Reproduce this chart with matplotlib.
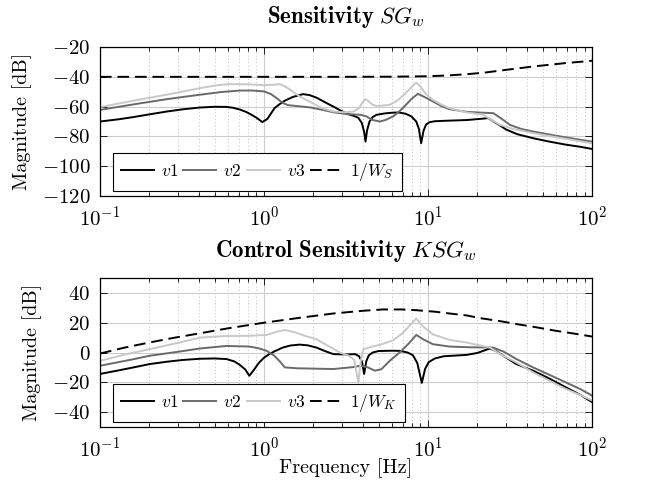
import numpy as np
import matplotlib
matplotlib.use('Agg')
import matplotlib.pyplot as plt
from matplotlib.ticker import LogLocator, NullFormatter

plt.rcParams['font.family'] = 'serif'
plt.rcParams['font.serif'] = ['cmr10', 'DejaVu Serif']
plt.rcParams['mathtext.fontset'] = 'cm'
plt.rcParams['axes.formatter.use_mathtext'] = True

# --- Sensitivity S G_w ---
s_v1_f = [0.1, 0.13, 0.16, 0.2, 0.255, 0.32, 0.407, 0.5, 0.591, 0.65, 0.714, 0.78, 0.84, 0.91, 0.977,
          1.05, 1.16, 1.24, 1.34, 1.5, 1.73, 1.9, 2.09, 2.35, 2.65, 2.95, 3.25, 3.55, 3.76, 3.95, 4.08,
          4.16, 4.25, 4.4, 4.6, 4.85, 5.5, 6.2, 6.71, 7.3, 7.9, 8.48, 8.8, 9.08, 9.4, 9.74, 10.2, 11,
          13.5, 17.2, 20.5, 23.3, 26, 30.1, 35, 43.7, 55, 69, 85, 100]
s_v1_m = [-70, -68.5, -67, -65.2, -63.3, -61.8, -60.6, -60.1, -60.2, -60.8, -62, -63.6, -65.5, -67.8, -70.4,
          -68.2, -61, -58.5, -56, -53.5, -51.6, -52.3, -54, -57, -60, -62.8, -65, -66.3, -67.5, -71, -77,
          -83.5, -76, -70, -67, -65.5, -64.5, -64, -64, -64.8, -66.5, -70, -75, -84.6, -76, -72, -70.5, -69.8,
          -69.4, -69, -68.3, -67.7, -71, -75.5, -78.5, -81.2, -83.5, -85.5, -87, -88.4]

s_v2_f = [0.1, 0.16, 0.255, 0.407, 0.55, 0.714, 0.85, 1.0, 1.1, 1.2, 1.3, 1.4, 1.65, 1.93, 2.3, 2.65,
          3.2, 3.88, 4.2, 4.6, 5.08, 5.5, 6.12, 6.8, 7.37, 8.0, 8.67, 9.5, 10.7, 12, 13.5, 17.2, 21, 25,
          28, 31.5, 37, 43.7, 60, 80, 100]
s_v2_m = [-62.2, -58.5, -55, -52, -50.2, -49.2, -49.2, -49.8, -51.5, -54.5, -57.5, -59, -59.8, -60.6, -62.3, -63.8,
          -65, -65.5, -66.5, -69, -70, -69, -66.6, -62.5, -58.5, -54.5, -51.4, -53.5, -56.5, -59.5, -61.7, -63.5, -64, -64.4,
          -68, -72.2, -75, -76.7, -79.5, -81.8, -83.5]

s_v3_f = [0.1, 0.16, 0.255, 0.407, 0.52, 0.619, 0.8, 1.0, 1.15, 1.25, 1.35, 1.5, 1.65, 2.0, 2.3, 2.65,
          3.1, 3.51, 3.8, 4.0, 4.16, 4.35, 4.6, 4.85, 5.3, 5.84, 6.5, 7.3, 8.0, 8.48, 9.0, 9.7, 10.7, 12,
          13.5, 17, 21.7, 24, 27.4, 33, 43.7, 60, 80, 100]
s_v3_m = [-60.4, -56, -52, -47.6, -45.6, -44.9, -45, -45.6, -45.3, -44.9, -46.5, -50, -53.2, -58, -61.3, -63.3,
          -63.8, -63.3, -61, -57, -55, -56.5, -58.8, -59.5, -59.3, -58.8, -56, -51, -46.5, -43.8, -46.5, -51.5, -55.4, -58.5,
          -61, -63.8, -65.5, -68.5, -72.2, -75, -77.8, -80.5, -82.8, -84.6]

ws_f = [0.1, 3, 6, 10, 13, 17, 22, 30, 38, 45, 55, 70, 85, 100]
ws_m = [-40, -40, -39.9, -39.6, -39.1, -38.3, -37.2, -35.3, -33.9, -32.9, -31.9, -30.7, -29.9, -29.2]

# --- Control sensitivity K S G_w ---
k_v1_f = [0.1, 0.13, 0.16, 0.2, 0.255, 0.32, 0.407, 0.5, 0.591, 0.66, 0.714, 0.77, 0.814, 0.87, 0.93,
          1.0, 1.08, 1.16, 1.3, 1.45, 1.65, 1.85, 2.09, 2.35, 2.65, 3.2, 3.6, 3.8, 3.95, 4.08, 4.2, 4.35,
          4.6, 5.0, 6.0, 6.71, 7.5, 8.09, 8.6, 9.17, 9.6, 10.1, 11, 12.5, 15, 17.2, 20, 23.8, 26, 30,
          34.6, 43.7, 55, 69, 85, 100]
k_v1_m = [-14.4, -12, -10, -7.8, -6.2, -5, -4.2, -4, -4.4, -6, -8.4, -11.5, -15.6, -11.5, -7,
          -3.5, -1, 0.8, 3.3, 4.7, 5.3, 4.8, 3.3, 1, -1.1, -1.3, -1.1, -2.5, -6, -14.4, -6, -2,
          0, 1, 1.2, 1.1, 0, -1.8, -7, -20.4, -11, -6.5, -4, -2.5, -2, -1.6, -0.3, 2.7, 1, -3.5,
          -7.8, -12.2, -17.5, -23.3, -28.5, -33.3]

k_v2_f = [0.1, 0.16, 0.2, 0.3, 0.407, 0.591, 0.814, 0.93, 1.04, 1.15, 1.25, 1.34, 1.6, 2.65, 3.5,
          3.88, 4.3, 4.74, 5.2, 5.84, 6.8, 7.7, 8.48, 9.3, 10.7, 13.5, 18, 25, 29, 34.6, 43.7, 55, 69, 85, 100]
k_v2_m = [-8.9, -4.5, -2.2, 0.5, 2.7, 4.4, 4, 2.8, 1.1, -2, -6, -10, -10.6, -11.1, -9.8,
          -8.9, -10, -12.2, -11.2, -5.6, 0.5, 6.5, 11.8, 9, 5.6, 4, 3.5, 3.3, 0.5, -4.4, -10, -15, -20, -24.6, -28.9]

k_v3_f = [0.1, 0.14, 0.2, 0.3, 0.407, 0.591, 0.8, 1.04, 1.2, 1.34, 1.55, 1.8, 2.09, 2.5, 2.9, 3.3,
          3.55, 3.76, 3.9, 4.03, 4.6, 5.2, 6.12, 7.0, 7.8, 8.48, 9.2, 10.7, 13.5, 17.2, 23.8, 28, 34.6,
          43.7, 55, 69, 85, 100]
k_v3_m = [-5.6, -1.5, 2.2, 6.5, 10, 11.1, 11.2, 11.8, 14, 15.1, 13.5, 11, 8.9, 4, 0, -2.2,
          -5, -20.4, -5, 2.2, 4, 5.5, 8.2, 13, 18.5, 22.9, 18, 12.2, 8.5, 6.7, 3.3, -1.5, -6.7,
          -13.3, -19, -24.4, -28.6, -32.2]

wk_f = [0.1, 0.14, 0.2, 0.28, 0.407, 0.6, 1.0, 1.65, 2.65, 4, 5.3, 7, 8.48, 11, 14, 17.2, 21, 27.4,
        35, 43.7, 60, 80, 100]
wk_m = [-0.7, 3.2, 6.7, 9.8, 12.9, 16.2, 20, 23.3, 26.2, 28, 28.9, 28.9, 28.4, 27.4, 26, 24.9, 23, 21.1,
        19, 17.3, 14.6, 12.5, 10.7]

c_v1 = 'black'
c_v2 = '#6a6a6a'
c_v3 = '#c8c8c8'


def style_axes(ax, ylim, yticks):
    ax.set_xscale('log')
    ax.set_xlim(0.1, 100)
    ax.set_ylim(*ylim)
    ax.set_yticks(yticks)
    ax.xaxis.set_minor_locator(LogLocator(base=10, subs=np.arange(2, 10)))
    ax.xaxis.set_minor_formatter(NullFormatter())
    ax.grid(True, which='major', color='#cccccc', lw=0.8, ls='-')
    ax.grid(True, which='minor', axis='x', color='#aaaaaa', lw=0.6, ls=(0, (1, 3)))
    ax.set_axisbelow(True)
    ax.tick_params(which='both', direction='in', top=True, right=True, labelsize=15, pad=7)
    ax.tick_params(which='major', length=5, width=0.6)
    ax.tick_params(which='minor', length=3, width=0.6)
    for sp in ax.spines.values():
        sp.set_linewidth(0.9)
    ax.set_ylabel('Magnitude [dB]', fontsize=14.5, labelpad=7)


fig = plt.figure(figsize=(6.5, 4.9), dpi=100)
ax1 = fig.add_axes([0.1538, 0.600, 0.757, 0.304])
ax2 = fig.add_axes([0.1538, 0.1286, 0.757, 0.304])

ax1.plot(s_v1_f, s_v1_m, color=c_v1, lw=1.4, label=r'$v1$')
ax1.plot(s_v2_f, s_v2_m, color=c_v2, lw=1.4, label=r'$v2$')
ax1.plot(s_v3_f, s_v3_m, color=c_v3, lw=1.4, label=r'$v3$')
ax1.plot(ws_f, ws_m, color='black', lw=1.4, dashes=(6, 3), label=r'$1/W_S$')
style_axes(ax1, (-120, -20), [-120, -100, -80, -60, -40, -20])
ax1.set_title(r'$\mathbf{Sensitivity}\ SG_w$', fontsize=16.5, pad=17)

ax2.plot(k_v1_f, k_v1_m, color=c_v1, lw=1.4, label=r'$v1$')
ax2.plot(k_v2_f, k_v2_m, color=c_v2, lw=1.4, label=r'$v2$')
ax2.plot(k_v3_f, k_v3_m, color=c_v3, lw=1.4, label=r'$v3$')
ax2.plot(wk_f, wk_m, color='black', lw=1.4, dashes=(6, 3), label=r'$1/W_K$')
style_axes(ax2, (-50, 50), [-40, -20, 0, 20, 40])
ax2.set_title(r'$\mathbf{Control\ Sensitivity}\ KSG_w$', fontsize=16.5, pad=15)
ax2.set_xlabel('Frequency [Hz]', fontsize=14.5, labelpad=-2)

for ax in (ax1, ax2):
    leg = ax.legend(loc='lower left', ncol=4, fontsize=12.5, frameon=True, fancybox=False,
                    edgecolor='black', framealpha=1, handlelength=1.9, handletextpad=0.4,
                    columnspacing=0.3, borderpad=0.45, borderaxespad=0,
                    bbox_to_anchor=(0.026, 0.034))
    leg.get_frame().set_linewidth(0.8)

fig.savefig('out.png', dpi=100)
